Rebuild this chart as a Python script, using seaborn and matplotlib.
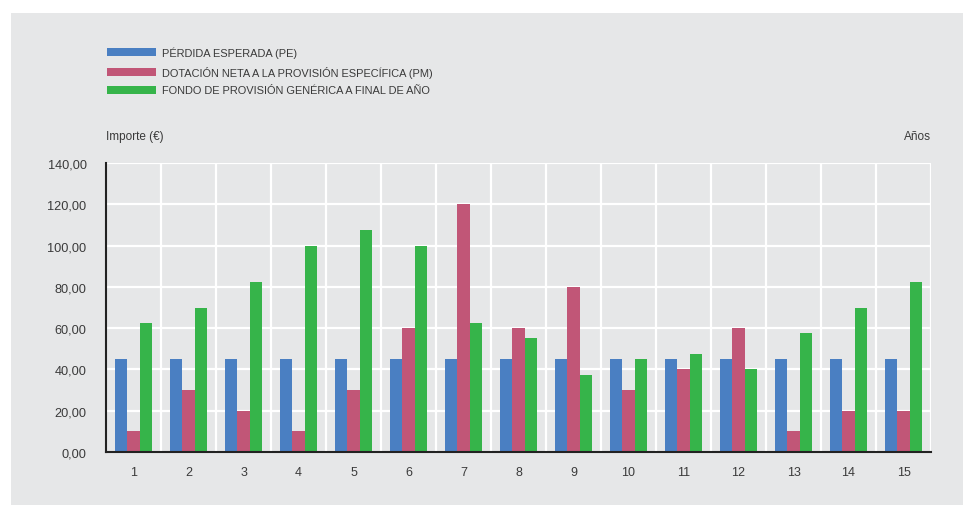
import matplotlib
matplotlib.use("Agg")
import matplotlib.pyplot as plt
import matplotlib.patches as mpatches
import seaborn as sns
import pandas as pd

years = [str(i) for i in range(1, 16)]
series_names = ["PÉRDIDA ESPERADA (PE)",
                "DOTACIÓN NETA A LA PROVISIÓN ESPECÍFICA (PM)",
                "FONDO DE PROVISIÓN GENÉRICA A FINAL DE AÑO"]
perdida = [45, 45, 45, 45, 45, 45, 45, 45, 45, 45, 45, 45, 45, 45, 45]
dotacion = [10, 30, 20, 10, 30, 60, 120, 60, 80, 30, 40, 60, 10, 20, 20]
fondo = [62.5, 70, 82.5, 100, 107.5, 100, 62.5, 55, 37.5, 45, 47.5, 40, 57.5, 70, 82.5]
yticks = [0, 20, 40, 60, 80, 100, 120, 140]
colors = ["#4a7fc2", "#c15677", "#36b44a"]

rows = []
for name, vals in zip(series_names, [perdida, dotacion, fondo]):
    for y, v in zip(years, vals):
        rows.append({"Año": y, "Serie": name, "Valor": v})
df = pd.DataFrame(rows)

sns.set_theme(style="white")
plt.rcParams['font.family'] = ['Liberation Sans', 'DejaVu Sans']

bg = "#e6e7e8"
txt = "#3a3a3a"
fig = plt.figure(figsize=(9.63, 5.06), dpi=100, facecolor="white")
fig.patches.append(mpatches.Rectangle((11 / 963, 0), 1 - 11 / 963, 1 - 14 / 506,
                                      transform=fig.transFigure, facecolor=bg,
                                      edgecolor="none", zorder=-10))
ax = fig.add_axes([106 / 963, 1 - 453 / 506, (931 - 106) / 963, (453 - 164) / 506])
ax.set_facecolor(bg)

sns.barplot(data=df, x="Año", y="Valor", hue="Serie", order=years,
            hue_order=series_names, palette=colors, saturation=1,
            width=0.67, ax=ax, errorbar=None, linewidth=0, zorder=3)

ax.set_ylim(0, 140)
ax.set_xlim(-0.5, 14.5)
ax.set_yticks(yticks)
ax.set_yticklabels([f"{v:.2f}".replace(".", ",") for v in yticks])
ax.tick_params(axis="both", length=0, colors=txt)
ax.tick_params(axis="y", pad=14, labelsize=9.2)
ax.tick_params(axis="x", pad=10, labelsize=9)
ax.set_xlabel("")
ax.set_ylabel("")

for v in yticks[1:]:
    ax.axhline(v, color="white", linewidth=1.6, zorder=1)
for i in range(15):
    ax.axvline(i + 0.5, color="white", linewidth=1.6, zorder=1)

for s in ["top", "right"]:
    ax.spines[s].set_visible(False)
for s in ["left", "bottom"]:
    ax.spines[s].set_color("#222222")
    ax.spines[s].set_linewidth(1.5)
    ax.spines[s].set_zorder(5)

handles, labels = ax.get_legend_handles_labels()
ax.legend(handles, labels, loc="upper left",
          bbox_to_anchor=(102 / 963, 1 - 42 / 506), bbox_transform=fig.transFigure,
          frameon=False, fontsize=7.9, handlelength=4.4, handleheight=0.75,
          labelspacing=0.7, handletextpad=0.6, borderpad=0, labelcolor=txt)

fig.text(106 / 963, 1 - 137 / 506, "Importe (€)", fontsize=8.5, color=txt,
         ha="left", va="center")
fig.text(931 / 963, 1 - 137 / 506, "Años", fontsize=8.5, color=txt,
         ha="right", va="center")

fig.savefig("out.png", dpi=100, facecolor="white")
